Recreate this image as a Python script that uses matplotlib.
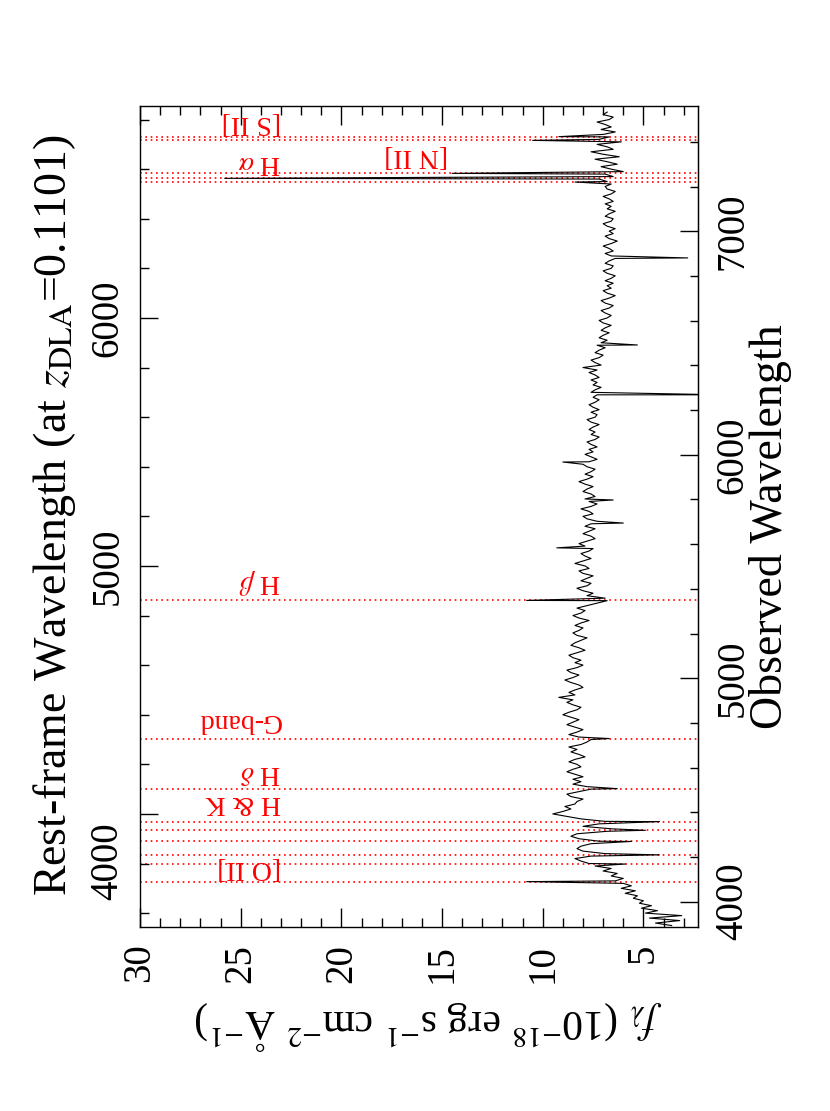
import numpy as np
import matplotlib
matplotlib.use('Agg')
import matplotlib.pyplot as plt
import matplotlib.transforms as mtransforms
from matplotlib.ticker import MultipleLocator, FixedLocator

plt.rcParams['font.family'] = ['Liberation Serif', 'DejaVu Serif']
plt.rcParams['mathtext.fontset'] = 'stix'

z_dla = 0.1101
obs_shift = 48.0  # the observed axis sits a little off the pure (1+z) scale

# continuum, rest-frame, 10 A steps from 3550 A
rest_start = 3550
rest_step = 10
cont_flux = [
    3.6, 4.4, 3.2, 4.7, 3.1, 4.9, 4.3, 5.1, 4.6, 5.2,
    5.0, 5.5, 5.3, 5.9, 5.4, 6.1, 5.6, 6.0, 6.4, 6.0,
    6.6, 6.3, 7.0, 6.6, 7.4, 7.7, 8.1, 8.4, 7.6, 6.9,
    8.0, 8.3, 8.1, 7.6, 7.2, 8.2, 8.6, 8.3, 6.8, 6.6,
    8.0, 7.2, 6.9, 8.1, 8.8, 9.5, 9.0, 8.6, 8.9, 8.4,
    8.3, 8.0, 8.6, 8.8, 8.2, 7.6, 7.8, 8.5, 8.1, 8.5,
    8.0, 8.4, 8.8, 8.5, 8.1, 8.3, 8.7, 8.4, 7.9, 8.2,
    8.6, 8.3, 8.7, 8.1, 7.8, 7.6, 8.2, 8.7, 8.3, 8.0,
    8.4, 8.8, 8.5, 8.2, 8.6, 9.0, 8.7, 8.3, 8.1, 8.5,
    8.8, 8.5, 9.2, 8.4, 8.7, 8.4, 8.0, 8.2, 8.6, 8.9,
    8.5, 8.2, 8.6, 8.8, 8.3, 8.0, 8.4, 8.1, 8.5, 8.7,
    8.3, 7.9, 8.2, 8.6, 8.4, 8.1, 7.8, 8.3, 8.5, 8.2,
    8.0, 8.4, 8.1, 7.7, 8.2, 8.5, 8.1, 7.9, 8.3, 7.8,
    7.3, 6.8, 6.9, 7.8, 7.5, 8.0, 8.3, 7.8, 7.6, 8.1,
    7.8, 7.5, 8.0, 8.2, 7.7, 7.9, 8.4, 8.0, 7.6, 7.9,
    8.1, 7.7, 7.5, 7.9, 8.2, 7.8, 7.4, 7.6, 8.0, 7.7,
    7.4, 7.9, 7.6, 7.3, 7.8, 8.0, 7.5, 7.7, 8.1, 7.6,
    7.3, 7.7, 7.9, 7.4, 7.6, 8.0, 7.8, 7.5, 7.9, 8.2,
    7.8, 7.5, 7.9, 7.6, 7.4, 7.8, 8.0, 7.7, 7.3, 7.6,
    7.9, 7.5, 7.7, 7.3, 7.6, 7.8, 7.4, 7.2, 7.6, 7.4,
    7.7, 7.5, 7.2, 7.6, 7.8, 7.4, 7.3, 7.6, 7.2, 7.5,
    7.7, 7.4, 7.2, 7.5, 7.3, 7.6, 7.4, 7.1, 7.5, 7.3,
    7.6, 7.2, 7.4, 7.7, 7.3, 8.0, 7.1, 7.4, 7.6, 7.2,
    7.0, 7.4, 7.2, 6.9, 7.3, 7.1, 6.8, 7.2, 7.0, 6.7,
    7.1, 6.9, 6.6, 7.0, 7.2, 6.8, 6.6, 6.9, 7.1, 6.7,
    6.5, 6.9, 7.1, 6.7, 6.4, 6.8, 7.0, 6.6, 6.8, 6.5,
    6.9, 6.6, 6.4, 6.8, 7.0, 6.6, 6.5, 6.9, 6.7, 6.4,
    6.6, 6.9, 6.5, 6.7, 7.0, 6.6, 6.3, 6.7, 6.9, 6.5,
    6.7, 6.4, 6.8, 7.0, 6.6, 6.5, 6.9, 6.7, 6.4, 6.8,
    6.6, 6.9, 6.5, 6.7, 7.0, 6.6, 6.4, 6.8, 6.9, 6.6,
    6.8, 7.2, 6.5, 6.9, 6.0, 6.6, 7.1, 6.3, 6.8, 7.4,
    6.2, 7.0, 7.6, 6.5, 6.8, 7.3, 6.1, 7.2, 6.7, 7.0,
    6.4, 7.1, 6.6, 6.9, 7.3, 6.7, 6.5, 7.0, 6.8,
]

# narrow emission / absorption features (rest wavelength, flux)
spike_wave = [3727, 3798, 3835, 3889, 3934, 3969, 4102, 4304, 4861, 5073,
              5173, 5266, 5419, 5690, 5891, 6242, 6548, 6563, 6583, 6716,
              6731]
spike_flux = [10.8, 5.9, 4.2, 5.6, 4.9, 4.2, 6.3, 6.7, 10.8, 9.3,
              6.0, 6.5, 9.0, 1.0, 5.3, 2.8, 8.4, 25.8, 14.5, 10.5,
              9.2]

# marked lines
line_waves = [3727, 3798, 3835, 3889, 3934, 3969, 4102, 4304, 4861,
              6548, 6563, 6583, 6716, 6731]
label_text = ['[O II]', 'H & K', r'H $\delta$', 'G-band', r'H $\beta$',
              r'H $\alpha$', '[N II]', '[S II]']
label_wave = [3734, 3996, 4117, 4327, 4879, 6577, 6605, 6738]
label_flux = [23.0, 23.0, 23.0, 23.0, 23.0, 23.0, 14.7, 23.0]

flux_ticks = [5, 10, 15, 20, 25, 30]
rest_ticks = [4000, 5000, 6000]
obs_ticks = [4000, 5000, 6000, 7000]

wave = rest_start + rest_step * np.arange(len(cont_flux))
allw = np.concatenate([wave, spike_wave])
allf = np.concatenate([cont_flux, spike_flux])
order = np.argsort(allw, kind='stable')
allw = allw[order]
allf = allf[order]

fig = plt.figure(figsize=(8.3, 11.11), dpi=100)
ax = fig.add_axes([0.1687, 0.1656, 0.672, 0.7393])

for w in line_waves:
    ax.axhline(w, color='red', ls=(0, (1, 2.2)), lw=1.2, zorder=1)
ax.plot(allf, allw, color='black', lw=0.8, zorder=2)

for t, w, f in zip(label_text, label_wave, label_flux):
    ax.text(f, w, t, color='red', fontsize=20, rotation=180,
            ha='right', va='bottom')

ax.set_xlim(30, 2.3)
ax.set_ylim(3544, 6856)

ax.xaxis.set_major_locator(FixedLocator(flux_ticks))
ax.xaxis.set_minor_locator(MultipleLocator(1))
ax.yaxis.set_major_locator(FixedLocator(rest_ticks))
ax.yaxis.set_minor_locator(MultipleLocator(200))

ax.tick_params(axis='both', which='both', direction='in', top=True,
               right=False, labeltop=False, width=1.0)
ax.tick_params(axis='x', which='major', length=14, labelsize=28, pad=12,
               labelrotation=90)
ax.tick_params(axis='x', which='minor', length=6.5)
ax.tick_params(axis='y', which='major', length=13, labelsize=28, pad=10,
               labelrotation=90)
ax.tick_params(axis='y', which='minor', length=6.5)
for lab in ax.get_yticklabels():
    lab.set_va('center')

def r2o(r):
    return r * (1 + z_dla) - obs_shift

def o2r(o):
    return (o + obs_shift) / (1 + z_dla)

sec = ax.secondary_yaxis('right', functions=(r2o, o2r))
sec.yaxis.set_major_locator(FixedLocator(obs_ticks))
sec.yaxis.set_minor_locator(MultipleLocator(200))
sec.tick_params(which='both', direction='in', width=1.0)
sec.tick_params(which='major', length=13, labelsize=28, pad=12,
                labelrotation=90)
sec.tick_params(which='minor', length=6)
for lab in sec.get_yticklabels():
    lab.set_va('center')

for sp in ax.spines.values():
    sp.set_linewidth(1.0)

fig.text(55 / 830, 1 - 515 / 1111,
         r'Rest-frame Wavelength (at $z_{\rm DLA}$=0.1101)',
         rotation=90, fontsize=33, ha='center', va='center')
fig.text(770 / 830, 1 - 527 / 1111, 'Observed Wavelength',
         rotation=90, fontsize=33, ha='center', va='center')
fig.text(428 / 830, 1 - 1025 / 1111,
         r'$f_\lambda$ (10$^{-18}$ erg s$^{-1}$ cm$^{-2}$ $\rm\AA^{-1}$)',
         rotation=180, fontsize=30, ha='center', va='center')

# the lowest rest-frame label sits lower in the original figure
fig.canvas.draw()
low_lab = ax.yaxis.get_major_ticks()[0].label1
low_lab.set_transform(low_lab.get_transform() +
                      mtransforms.ScaledTranslation(0, -0.47, fig.dpi_scale_trans))

fig.savefig('out.png', dpi=100)
